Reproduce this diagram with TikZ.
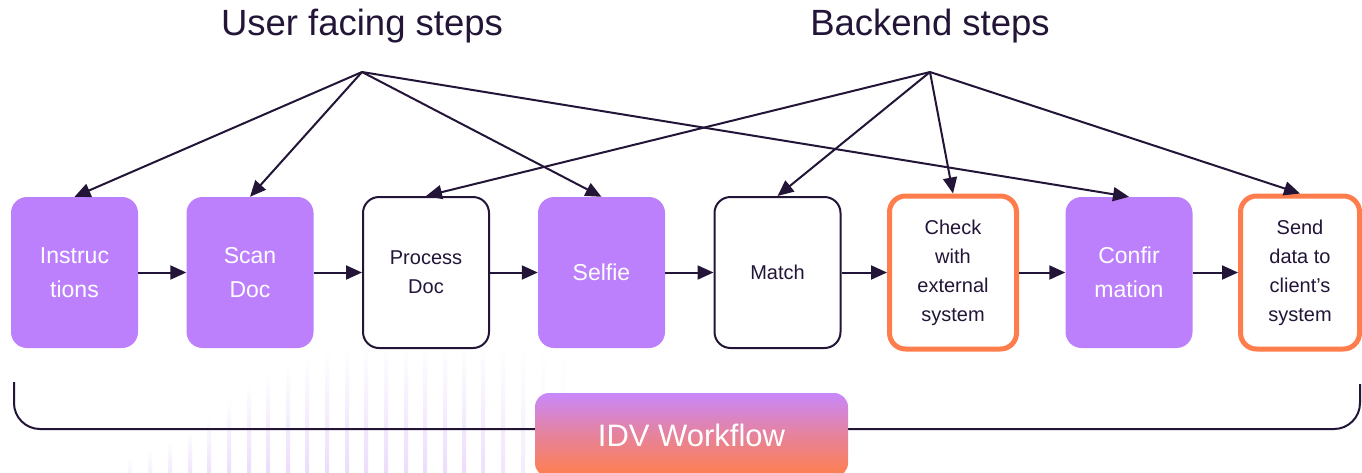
\documentclass[tikz,border=0pt]{standalone}
\usepackage{fontspec}
\setmainfont{Liberation Sans}
\usetikzlibrary{arrows.meta}
\definecolor{ink}{HTML}{231537}
\definecolor{violetfill}{HTML}{BD80FD}
\definecolor{orangeline}{HTML}{FF7D4D}
\definecolor{stripe}{HTML}{ECDDFC}
\definecolor{gradtop}{HTML}{C887FC}
\definecolor{gradbot}{HTML}{FF7F4C}
\begin{document}
\begin{tikzpicture}[x=1pt,y=-1pt,
  stepbase/.style={rounded corners=16pt, minimum width=127pt, minimum height=151pt, align=center, inner sep=0pt},
  userstep/.style={stepbase, fill=violetfill, text=white, font=\fontsize{23}{34}\selectfont},
  backstep/.style={stepbase, draw=ink, line width=2pt, fill=white, text=ink, font=\fontsize{20}{29}\selectfont, minimum width=126pt},
  extstep/.style={stepbase, draw=orangeline, line width=5pt, fill=white, text=ink, font=\fontsize{20}{29}\selectfont, minimum height=153pt},
  flow/.style={-{Triangle[length=16pt,width=14pt]}, line width=2pt, draw=ink},
  title/.style={font=\fontsize{36.5}{42}\selectfont, text=ink, anchor=base, inner sep=0pt},
  idvbox/.style={rounded corners=14pt, minimum width=313pt, minimum height=84pt, top color=gradtop, bottom color=gradbot, middle color=gradtop!45!gradbot, text=white, font=\fontsize{31}{36}\selectfont, inner sep=0pt},
  bracket/.style={draw=ink, line width=2pt, rounded corners=26pt},
  stripebar/.style={top color=white, bottom color=stripe}
]
\clip (0,0) rectangle (1362,472);
\fill[white] (0,0) rectangle (1362,472);
% decorative stripes
\foreach \sx/\st/\so in {130/457/0.3, 150/450/0.45, 170/440/0.6, 190/430/0.75, 209/417/0.85, 229/400/0.95, 249/383/1, 268/373/1, 288/363/1, 307/357/1, 327/350/1, 347/345/1, 366/342/1, 386/342/1, 406/342/1, 425/342/1, 445/342/1, 464/342/1, 483/342/0.9, 503/345/0.75, 523/348/0.55, 543/352/0.35, 563/358/0.2}
  {\shade[stripebar, opacity=\so] (\sx-2,\st) rectangle (\sx+2,472);}
% titles
\node[title] (tuser) at (362,35) {User facing steps};
\node[title] (tback) at (930,35) {Backend steps};
\coordinate (uf) at (362,72);
\coordinate (be) at (930,72);
% steps
\node[userstep] (instr) at (74.5,272.5) {Instruc\\tions};
\node[userstep] (scan) at (250,272.5) {Scan\\Doc};
\node[backstep] (proc) at (426,272.5) {Process\\Doc};
\node[userstep] (selfie) at (601.5,272.5) {Selfie};
\node[backstep] (match) at (777.5,272.5) {Match};
\node[extstep] (check) at (953,272.5) {Check\\with\\external\\system};
\node[userstep] (conf) at (1129,272.5) {Confir\\mation};
\node[extstep, minimum width=119pt] (send) at (1300,272.5) {Send\\data to\\client’s\\system};
% hub arrows
\draw[flow] (uf) -- (instr.north);
\draw[flow] (uf) -- (scan.north);
\draw[flow] (uf) -- (selfie.north);
\draw[flow] (uf) -- (conf.north);
\draw[flow] (be) -- (proc.north);
\draw[flow] (be) -- (match.north);
\draw[flow] (be) -- (check.north);
\draw[flow] (be) -- (send.north);
% sequence arrows
\draw[flow] (instr.east) -- (scan.west);
\draw[flow] (scan.east) -- (proc.west);
\draw[flow] (proc.east) -- (selfie.west);
\draw[flow] (selfie.east) -- (match.west);
\draw[flow] (match.east) -- (check.west);
\draw[flow] (check.east) -- (conf.west);
\draw[flow] (conf.east) -- (send.west);
% bracket
\coordinate (bl) at (14,382);
\coordinate (br) at (1360,384);
\draw[bracket] (bl) -- (14,429) -- (1360,429) -- (br);
\node[idvbox] (idv) at (691.5,435) {IDV Workflow};
\end{tikzpicture}
\end{document}
